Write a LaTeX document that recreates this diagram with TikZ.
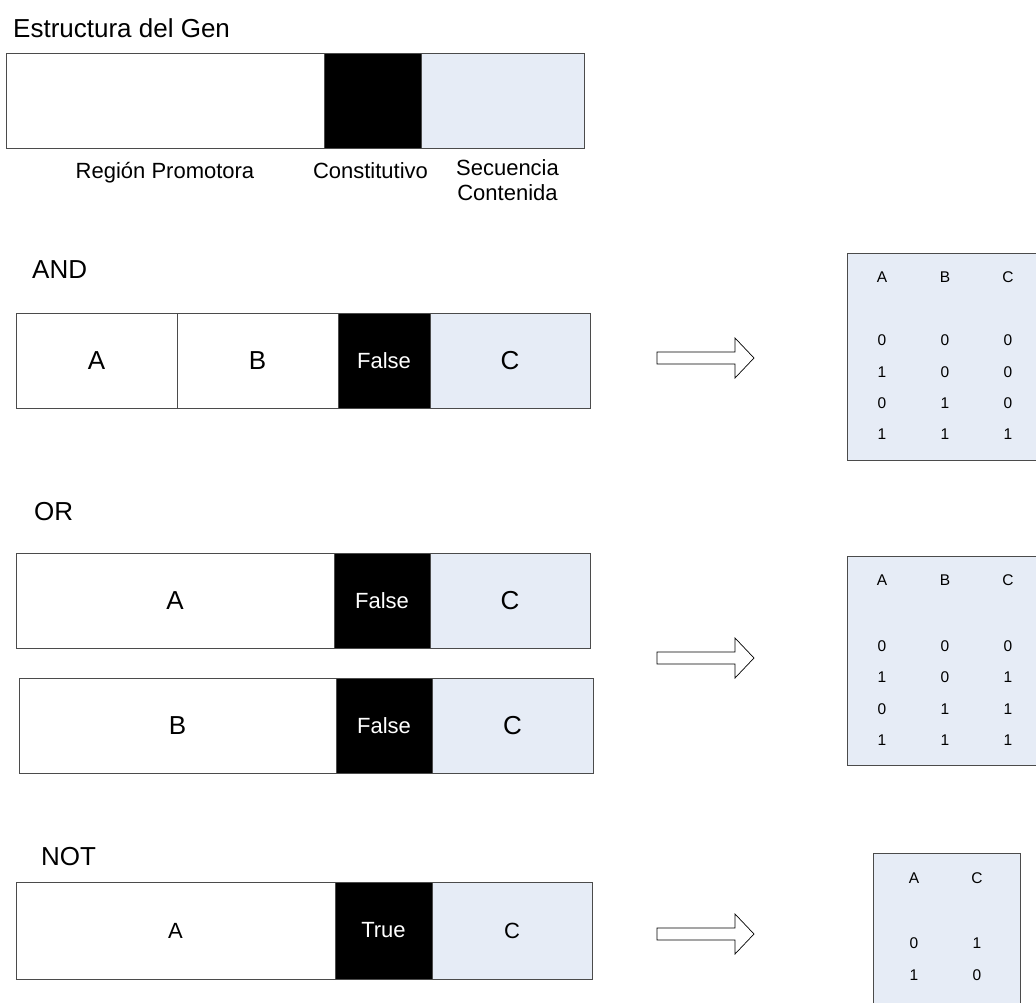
\documentclass[tikz,border=0pt]{standalone}
\usepackage{fontspec}
\setmainfont{Liberation Sans}
\usetikzlibrary{positioning}
\definecolor{seqblue}{RGB}{230,236,246}
\definecolor{edgegray}{RGB}{75,75,75}

\begin{document}
\begin{tikzpicture}[
    x=1pt, y=-1pt,
    seg/.style={draw=edgegray, line width=1pt, minimum height=95pt, inner sep=0pt, outer sep=0pt, font=\fontsize{26}{30}\selectfont},
    prom/.style={seg, fill=white},
    const/.style={seg, fill=black, text=white, font=\fontsize{22}{26}\selectfont},
    seq/.style={seg, fill=seqblue},
    small/.style={font=\fontsize{22}{26}\selectfont},
    head/.style={font=\fontsize{26}{30}\selectfont, anchor=base west, inner sep=0pt},
    lbl/.style={font=\fontsize{22}{25}\selectfont, align=center, inner sep=0pt},
    truth/.style={draw=edgegray, line width=1.1pt, fill=seqblue, anchor=north west, inner sep=0pt},
    cell/.style={font=\fontsize{15.5}{18}\selectfont, inner sep=0pt},
    hollow/.style={draw=black, line width=0.7pt, fill=white, line join=miter}
]
    \useasboundingbox (0,0) rectangle (1036,1002);
    \clip (0,0) rectangle (1036,1002);

    % gene structure
    \node[head] (title) at (13,37) {Estructura del Gen};
    \node[prom, minimum width=318pt, anchor=north west] (gprom) at (6,53) {};
    \node[const, minimum width=97pt, right=0pt of gprom] (gconst) {};
    \node[seq, minimum width=163pt, right=0pt of gconst] (gseq) {};
    \node[lbl, below=14pt of gprom] (lprom) {Región Promotora};
    \node[lbl, below=14pt of gconst, xshift=-2pt] (lconst) {Constitutivo};
    \node[lbl, below=11pt of gseq, xshift=5pt] (lseq) {Secuencia\\Contenida};

    % AND
    \node[head] (andlbl) at (32,278) {AND};
    \node[prom, minimum width=161pt, anchor=north west] (andA) at (16,313) {A};
    \node[prom, minimum width=161pt, right=0pt of andA] (andB) {B};
    \node[const, minimum width=92pt, right=0pt of andB] (andF) {False};
    \node[seq, minimum width=160pt, right=0pt of andF] (andC) {C};

    % OR
    \node[head] (orlbl) at (34,520) {OR};
    \node[prom, minimum width=318pt, anchor=north west] (orA) at (16,553) {A};
    \node[const, minimum width=96pt, right=0pt of orA] (orF1) {False};
    \node[seq, minimum width=160pt, right=0pt of orF1] (orC1) {C};
    \node[prom, minimum width=317pt, anchor=north west] (orB) at (19,678) {B};
    \node[const, minimum width=96pt, right=0pt of orB] (orF2) {False};
    \node[seq, minimum width=161pt, right=0pt of orF2] (orC2) {C};

    % NOT
    \node[head] (notlbl) at (41,865) {NOT};
    \node[prom, small, minimum width=319pt, minimum height=97pt, anchor=north west] (notA) at (16,882) {A};
    \node[const, minimum width=97pt, minimum height=97pt, right=0pt of notA] (notT) {True};
    \node[seq, small, minimum width=160pt, minimum height=97pt, right=0pt of notT] (notC) {C};

    % hollow arrows
    \coordinate (arr1) at (657,358);
    \coordinate (arr2) at (657,658);
    \coordinate (arr3) at (657,934);
    \foreach \a in {arr1,arr2,arr3}
        \draw[hollow] (\a) ++(0,-6) -- ++(78,0) -- ++(0,-14) -- ++(19,20) -- ++(-19,20) -- ++(0,-14) -- ++(-78,0) -- cycle;

    % truth tables
    \node[truth, minimum width=220pt, minimum height=207pt] (andtab) at (847,253) {};
    \foreach \x/\t in {882/A,945/B,1008/C}
        \node[cell] (andh\t) at (\x,277) {\t};
    \foreach \y/\a/\b/\c [count=\i] in {340/0/0/0,372/1/0/0,403/0/1/0,434/1/1/1} {
        \node[cell] (and\i a) at (882,\y) {\a};
        \node[cell] (and\i b) at (945,\y) {\b};
        \node[cell] (and\i c) at (1008,\y) {\c};
    }

    \node[truth, minimum width=220pt, minimum height=209pt] (ortab) at (847,556) {};
    \foreach \x/\t in {882/A,945/B,1008/C}
        \node[cell] (orh\t) at (\x,580) {\t};
    \foreach \y/\a/\b/\c [count=\i] in {646/0/0/0,677/1/0/1,709/0/1/1,740/1/1/1} {
        \node[cell] (or\i a) at (882,\y) {\a};
        \node[cell] (or\i b) at (945,\y) {\b};
        \node[cell] (or\i c) at (1008,\y) {\c};
    }

    \node[truth, minimum width=147pt, minimum height=200pt] (nottab) at (873,853) {};
    \foreach \x/\t in {914/A,977/C}
        \node[cell] (noth\t) at (\x,878) {\t};
    \foreach \y/\a/\c [count=\i] in {943/0/1,975/1/0} {
        \node[cell] (not\i a) at (914,\y) {\a};
        \node[cell] (not\i c) at (977,\y) {\c};
    }
\end{tikzpicture}
\end{document}
